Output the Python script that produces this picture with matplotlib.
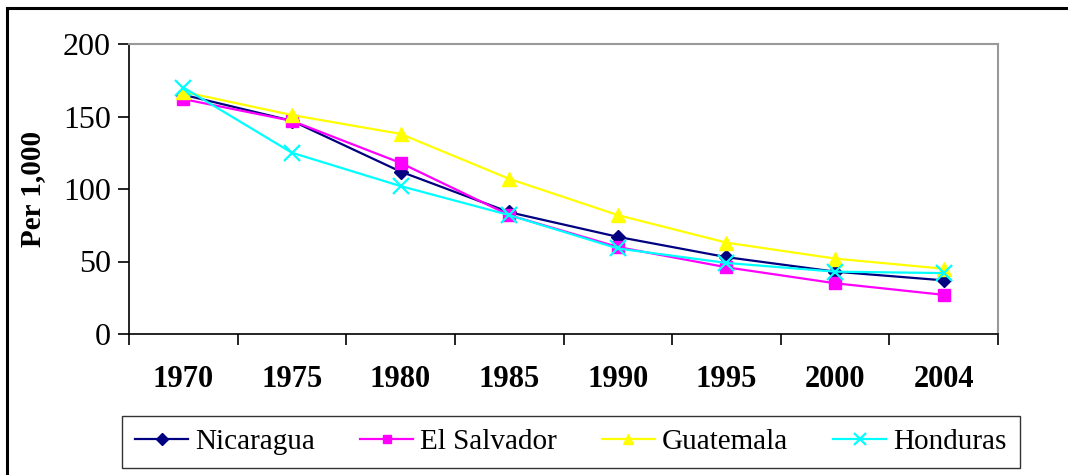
import matplotlib
matplotlib.use("Agg")
from matplotlib import pyplot as plt
from matplotlib.patches import Rectangle

plt.rcParams['font.family'] = ['Liberation Serif', 'DejaVu Serif']

years = ["1970", "1975", "1980", "1985", "1990", "1995", "2000", "2004"]
nicaragua = [165, 147, 112, 84, 67, 53, 43, 37]
el_salvador = [162, 147, 118, 82, 60, 46, 35, 27]
guatemala = [167, 151, 138, 107, 82, 63, 52, 45]
honduras = [170, 125, 102, 82, 59, 49, 43, 42]

fig = plt.figure(figsize=(10.68, 4.75), dpi=100)
# outer chart border
fig.patches.append(Rectangle((7 / 1068, -0.1), 1.2, 1 - 8 / 475 + 0.1,
                             transform=fig.transFigure, fill=False,
                             edgecolor="black", linewidth=2.2))

ax = fig.add_axes([129 / 1068, 1 - 334 / 475, 869 / 1068, 290 / 475])
x = range(len(years))

ax.plot(x, nicaragua, color="#000080", marker="D", markersize=7.5, linewidth=1.6, label="Nicaragua")
ax.plot(x, el_salvador, color="#FF00FF", marker="s", markersize=8, linewidth=1.6, label="El Salvador")
ax.plot(x, guatemala, color="#FFFF00", marker="^", markersize=10, linewidth=1.6, label="Guatemala")
ax.plot(x, honduras, color="#00FFFF", marker="x", markersize=11, markeredgewidth=1.6,
        linewidth=1.6, label="Honduras")

ax.set_xlim(-0.5, len(years) - 0.5)
ax.set_ylim(0, 200)
ax.set_yticks([0, 50, 100, 150, 200])
ax.tick_params(axis="y", labelsize=23, length=8, width=1.2, pad=5)

# category labels at centers, ticks on boundaries
ax.set_xticks(list(x))
ax.set_xticklabels(years, fontsize=22, fontweight="bold")
ax.tick_params(axis="x", which="major", length=0, pad=22)
ax.set_xticks([i - 0.5 for i in range(len(years) + 1)], minor=True)
ax.tick_params(axis="x", which="minor", length=8, width=1.2)

for side in ["top", "right"]:
    ax.spines[side].set_color("#999999")
    ax.spines[side].set_linewidth(1.5)
for side in ["left", "bottom"]:
    ax.spines[side].set_color("black")
    ax.spines[side].set_linewidth(1.2)

ax.set_ylabel("Per 1,000", fontsize=21, fontweight="bold", labelpad=12)

leg = fig.legend(loc="center", ncol=4, bbox_to_anchor=(571 / 1068, 1 - 442 / 475),
                 fontsize=21, frameon=True, fancybox=False, edgecolor="black",
                 handlelength=1.8, columnspacing=1.55, markerscale=0.75,
                 borderpad=0.45, handletextpad=0.25)
leg.get_frame().set_linewidth(1.0)

fig.savefig("out.png", dpi=100)
